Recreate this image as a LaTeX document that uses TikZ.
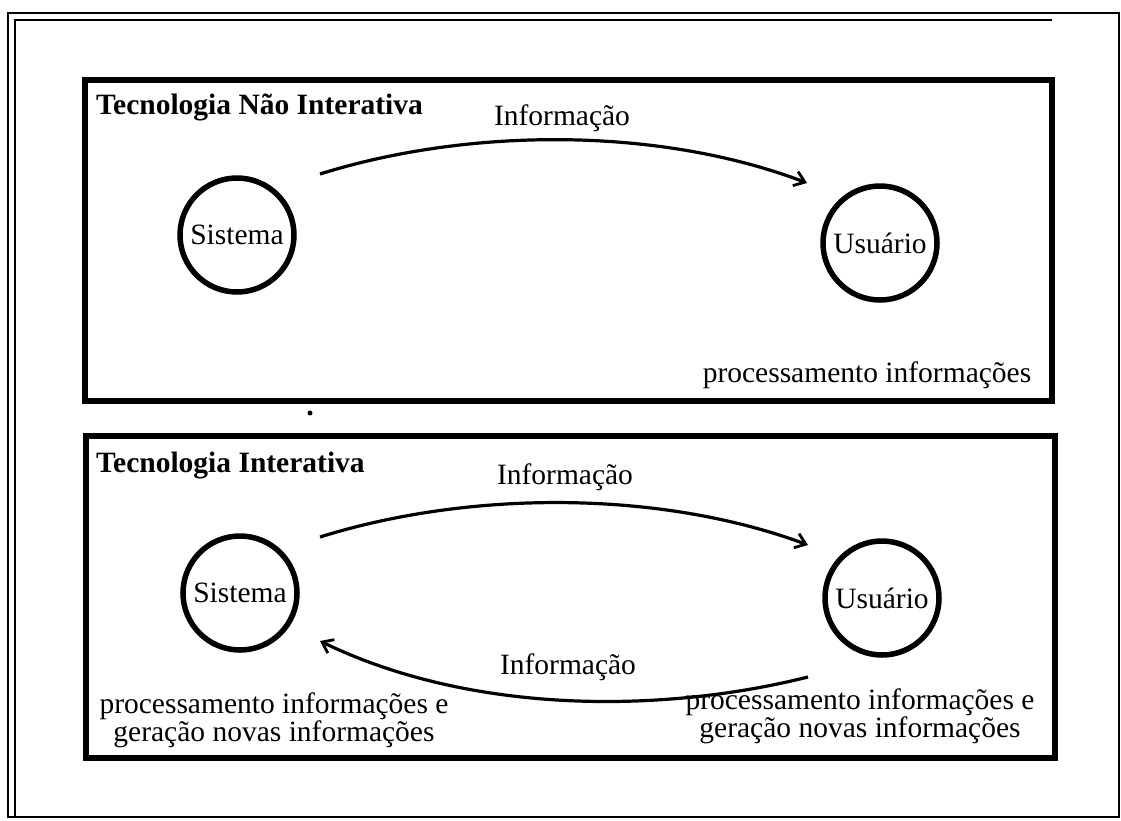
\documentclass[tikz,border=0pt]{standalone}
\usepackage{fontspec}
\setmainfont{Liberation Serif}
\usetikzlibrary{arrows.meta,calc}
\begin{document}
\begin{tikzpicture}[x=1pt,y=-1pt,
  panel/.style={line width=5.5pt},
  actor/.style={circle,draw,line width=5.5pt,minimum size=114pt,inner sep=0pt,
    font=\fontsize{29.5}{34}\selectfont},
  flow/.style={line width=3.2pt,-{Straight Barb[length=10pt,width=15pt,line width=2.8pt]}},
  lbl/.style={font=\fontsize{29.5}{34}\selectfont,inner sep=0pt},
  title/.style={font=\bfseries\fontsize{29.5}{34}\selectfont,inner sep=0pt,anchor=west},
  note/.style={font=\fontsize{29.5}{28}\selectfont,align=center,inner sep=0pt}]
\useasboundingbox (0,0) rectangle (1121,820);

% outer double frame
\draw[line width=2.5pt] (8,13) rectangle (1119,817);
\draw[line width=2pt] (15,817) -- (15,20) -- (1052,20);

% panels
\draw[panel] (85,80) rectangle (1052,401);
\draw[panel] (86,436) rectangle (1055,758);
\fill (310,413) circle (2.5pt);

% upper panel: one-way flow
\node[title] (t1) at (96,107) {Tecnologia Não Interativa};
\node[actor] (s1) at (237,235) {Sistema};
\node[actor] (u1) at (880,243) {Usuário};
\coordinate (a1) at ($(s1)+(83,-61)$);
\coordinate (b1) at ($(u1)+(-73,-60)$);
\draw[flow] (a1) .. controls (470,127) and (660,127) .. (b1);
\node[lbl] (i1) at (562,118) {Informação};
\node[note] (n1) at (867,375) {processamento informações};

% lower panel: two-way flow
\node[title] (t2) at (96,466) {Tecnologia Interativa};
\node[actor] (s2) at (240,593) {Sistema};
\node[actor] (u2) at (882,598) {Usuário};
\coordinate (a2) at ($(s2)+(80,-56)$);
\coordinate (b2) at ($(u2)+(-74,-53)$);
\draw[flow] (a2) .. controls (470,490) and (660,490) .. (b2);
\node[lbl] (i2) at (565,477) {Informação};
\coordinate (a3) at ($(u2)+(-74,79)$);
\coordinate (b3) at ($(s2)+(80,48)$);
\draw[flow] (a3) .. controls (660,714) and (470,714) .. (b3);
\node[lbl] (i3) at (568,667) {Informação};
\node[note] (n2) at (274,720) {processamento informações e\\geração novas informações};
\node[note] (n3) at (860,716) {processamento informações e\\geração novas informações};
\end{tikzpicture}
\end{document}
